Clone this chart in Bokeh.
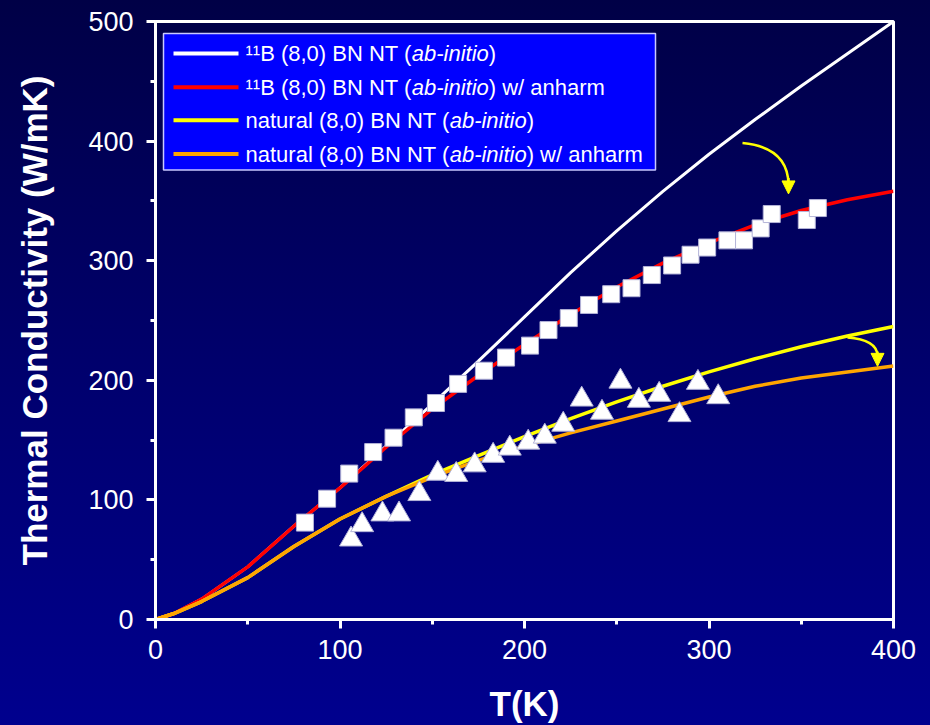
from bokeh.plotting import figure
from bokeh.models import (Range1d, BoxAnnotation, Label, Arrow, NormalHead,
                          SingleIntervalTicker)
from bokeh.embed import file_html
from bokeh.resources import INLINE

# ---------------- data ----------------
T_curve = [0, 10, 25, 50, 75, 100, 125, 150, 175, 200, 225, 250, 275, 300, 325, 350, 375, 400]
k_11B = [0, 5, 17, 44, 78, 110, 145, 180, 216, 253, 290, 325, 358, 389, 418, 446, 473, 500]
k_11B_anh = [0, 5, 17, 44, 78, 110, 144, 176, 204, 230, 255, 278, 298, 315, 330, 342, 351, 358]
k_nat = [0, 5, 15, 35, 61, 84, 103, 121, 137, 153, 168, 182, 195, 207, 218, 228, 237, 245]
k_nat_anh = [0, 5, 15, 35, 61, 84, 103, 119, 133, 145, 156, 166, 176, 186, 195, 202, 207, 212]

sq_T = [81, 93, 105, 118, 129, 140, 152, 164, 178, 190, 203, 213, 224, 235, 247, 258,
        269, 280, 290, 299, 310, 319, 328, 334, 353, 359]
sq_K = [81, 101, 122, 140, 152, 169, 181, 197, 208, 219, 229, 242, 252, 263, 272, 277,
        288, 296, 305, 311, 317, 317, 327, 339, 334, 344]

tri_T = [106, 112, 123, 132, 143, 153, 163, 173, 183, 192, 202, 211, 221, 231, 242, 252,
         262, 273, 284, 294, 305]
tri_K = [67, 79, 88, 88, 105, 122, 121, 129, 137, 143, 148, 153, 163, 184, 173, 199,
         183, 188, 171, 198, 186]

x_ticks_interval = 100
y_ticks_interval = 100

legend_rows = [
    ("white", [("\u00b9\u00b9B (8,0) BN NT (", "normal"), ("ab-initio", "italic"), (")", "normal")]),
    ("red", [("\u00b9\u00b9B (8,0) BN NT (", "normal"), ("ab-initio", "italic"), (") w/ anharm", "normal")]),
    ("yellow", [("natural (8,0) BN NT (", "normal"), ("ab-initio", "italic"), (")", "normal")]),
    ("orange", [("natural (8,0) BN NT (", "normal"), ("ab-initio", "italic"), (") w/ anharm", "normal")]),
]

# ---------------- layout ----------------
FONT = "Liberation Sans"
W, H = 930, 725
BL, BR, BT, BB = 155, 37, 21, 104
FW = W - BL - BR
FH = H - BT - BB
XMIN, XMAX, YMIN, YMAX = 0, 400, 0, 500


def dx(px):  # page pixel -> data x
    return XMIN + (px - BL) * (XMAX - XMIN) / FW


def dy(py):  # page pixel -> data y
    return YMAX - (py - BT) * (YMAX - YMIN) / FH


p = figure(width=W, height=H, x_range=Range1d(XMIN, XMAX), y_range=Range1d(YMIN, YMAX),
           output_backend="svg", toolbar_location=None,
           min_border_left=BL, min_border_right=BR, min_border_top=BT, min_border_bottom=BB)
p.styles = {"background": "linear-gradient(to bottom, #000046 0%, #000070 55%, #00008e 100%)"}
p.border_fill_alpha = 0
p.background_fill_alpha = 0
p.grid.visible = False
p.outline_line_color = "white"
p.outline_line_width = 3
p.outline_line_alpha = 1

p.xaxis.ticker = SingleIntervalTicker(interval=x_ticks_interval, num_minor_ticks=2)
p.yaxis.ticker = SingleIntervalTicker(interval=y_ticks_interval, num_minor_ticks=2)
p.xaxis.axis_label = "T(K)"
p.yaxis.axis_label = "Thermal Conductivity (W/mK)"
for ax in (p.xaxis[0], p.yaxis[0]):
    ax.axis_line_color = "white"
    ax.axis_line_width = 3
    ax.major_tick_line_color = "white"
    ax.major_tick_line_width = 3
    ax.major_tick_out = 9
    ax.major_tick_in = 0
    ax.minor_tick_line_color = "white"
    ax.minor_tick_line_width = 3
    ax.minor_tick_out = 5
    ax.minor_tick_in = 0
    ax.major_label_text_color = "white"
    ax.major_label_text_font = FONT
    ax.major_label_text_font_size = "27px"
    ax.axis_label_text_color = "white"
    ax.axis_label_text_font = FONT
    ax.axis_label_text_font_style = "bold"
    ax.axis_label_text_font_size = "35px"
p.xaxis.major_label_standoff = 11
p.yaxis.major_label_standoff = 13
p.xaxis.axis_label_standoff = 22
p.yaxis.axis_label_standoff = 31

# curves
p.line(T_curve, k_11B, line_color="white", line_width=3)
p.line(T_curve, k_11B_anh, line_color="#ff0000", line_width=3.5)
p.line(T_curve, k_nat, line_color="#ffff00", line_width=3.5)
p.line(T_curve, k_nat_anh, line_color="#ffa500", line_width=3.5)

# experimental points
p.scatter(sq_T, sq_K, marker="square", size=17, fill_color="white",
          line_color="#b4b4d8", line_width=1)
p.scatter(tri_T, tri_K, marker="triangle", size=23, fill_color="white",
          line_color="#b4b4d8", line_width=1)

# yellow curved arrows
p.quadratic(x0=[dx(742), dx(847)], y0=[dy(143), dy(338)],
            x1=[dx(788), dx(877)], y1=[dy(184), dy(356)],
            cx=[dx(787), dx(876)], cy=[dy(147), dy(340)],
            line_color="#ffff00", line_width=2.5)
for (xa, ya0, ya1) in [(788, 178, 194), (877, 352, 367)]:
    p.add_layout(Arrow(end=NormalHead(size=13, fill_color="#ffff00", line_color="#ffff00"),
                       x_start=dx(xa), y_start=dy(ya0), x_end=dx(xa), y_end=dy(ya1),
                       line_color="#ffff00", line_width=2.5))

# legend (hand-built so that "ab-initio" can be italic)
p.add_layout(BoxAnnotation(left=dx(163), right=dx(655), top=dy(33), bottom=dy(170),
                           fill_color="#0000ff", fill_alpha=1,
                           line_color="#c8c8ff", line_width=1.5, line_alpha=1))
CW = {' ': 278, '(': 333, ')': 333, ',': 278, '-': 333, '/': 278, '0': 556, '8': 556,
      '\u00b9': 333, 'B': 667, 'N': 722, 'T': 611, 'a': 556, 'b': 556, 'h': 556, 'i': 222,
      'l': 222, 'm': 833, 'n': 556, 'o': 556, 'r': 333, 't': 278, 'u': 556, 'w': 722}
LFS = 22
row_y = [53, 87, 120, 154]
for (col, parts), ry in zip(legend_rows, row_y):
    p.add_layout(Arrow(end=None, x_start=dx(173), y_start=dy(ry), x_end=dx(238), y_end=dy(ry),
                       line_color=col, line_width=4))
    xpx = 245
    for txt, style in parts:
        p.add_layout(Label(x=dx(xpx), y=dy(ry), text=txt, text_color="white",
                           text_font=FONT, text_font_size=f"{LFS}px",
                           text_font_style=style, text_baseline="middle", text_align="left"))
        xpx += sum(CW.get(c, 556) for c in txt) * LFS / 1000.0

open("out.html", "w").write(file_html(p, INLINE))
